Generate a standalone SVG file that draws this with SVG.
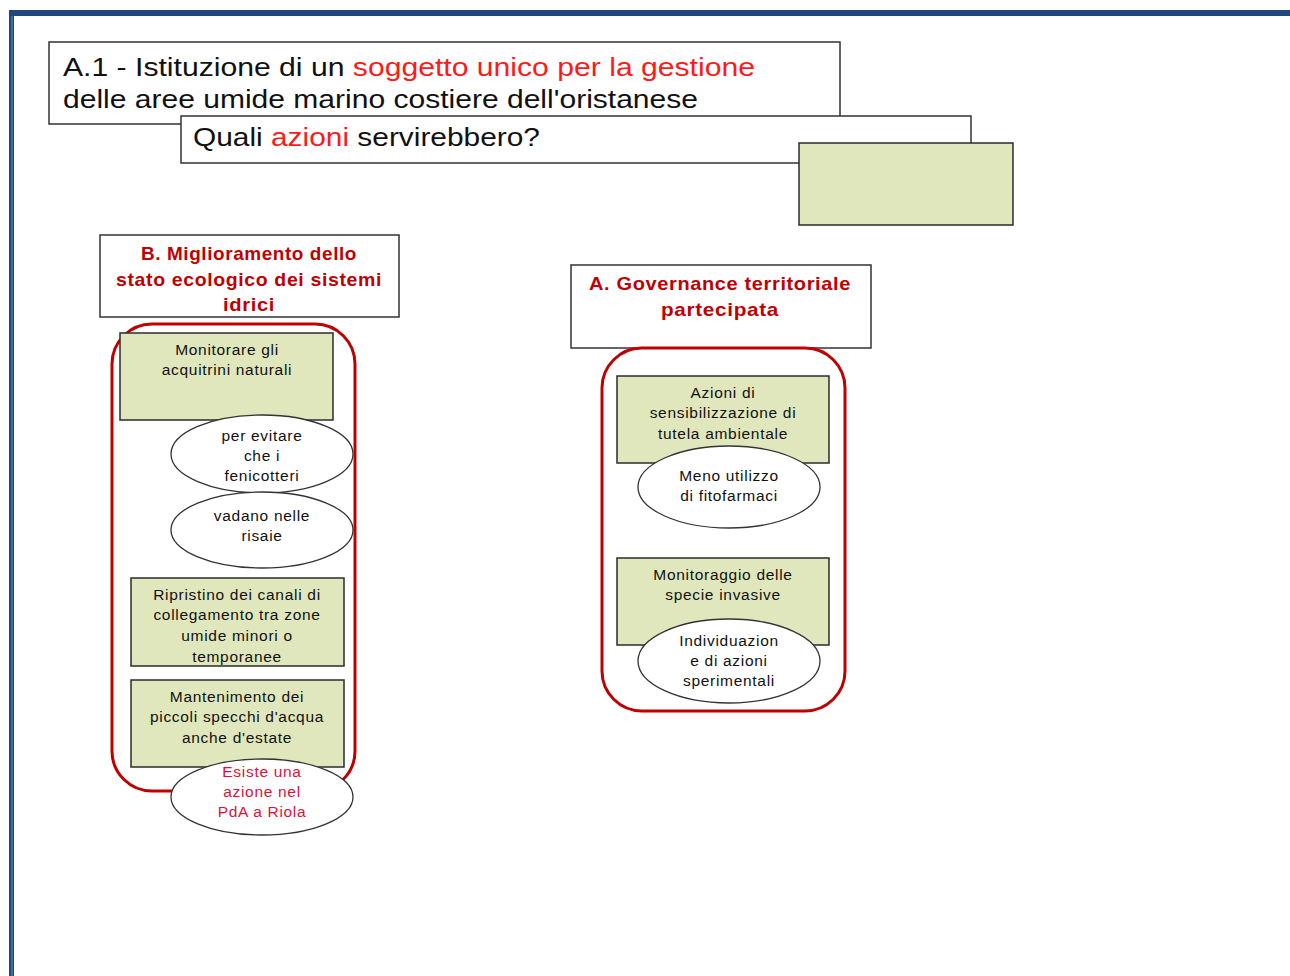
<svg xmlns="http://www.w3.org/2000/svg" width="1290" height="976" viewBox="0 0 1290 976">
<style>
.frame{fill:#1f497d}
.box{fill:#ffffff;stroke:#333333;stroke-width:1.5}
.green{fill:#e1e7bc;stroke:#2b2b2b;stroke-width:1.5}
.oval{fill:#ffffff;stroke:#333333;stroke-width:1.3}
.group{fill:none;stroke:#c00000;stroke-width:3}
.t{font-family:"Liberation Sans","DejaVu Sans",sans-serif;fill:#111111}
.title{font-size:25px}
.head{font-size:19px;font-weight:bold;fill:#c00000;letter-spacing:0.6px}
.small{font-size:15.5px;letter-spacing:0.7px;text-anchor:middle}
.red{fill:#ff1a1a}
.redsmall{fill:#e0103a}
</style>
<rect width="1290" height="976" fill="#ffffff"/>
<g id="frame">
<rect class="frame" x="9" y="10" width="1281" height="6"/>
<rect class="frame" x="9" y="10" width="5" height="966"/>
<rect x="11.5" y="16" width="1" height="960" fill="#6f8fb8"/>
</g>
<g id="title">
<rect class="box" x="49" y="42" width="791" height="82"/>
<text class="t title" x="63" y="76" textLength="692" lengthAdjust="spacingAndGlyphs">A.1 - Istituzione di un <tspan class="red">soggetto unico per la gestione</tspan></text>
<text class="t title" x="63" y="108" textLength="635" lengthAdjust="spacingAndGlyphs">delle aree umide marino costiere dell'oristanese</text>
</g>
<g id="question">
<rect class="box" x="181" y="116" width="790" height="47"/>
<text class="t title" x="193" y="146" textLength="347" lengthAdjust="spacingAndGlyphs">Quali <tspan class="red">azioni</tspan> servirebbero?</text>
</g>
<g id="empty-box">
<rect class="green" x="799" y="143" width="214" height="82"/>
</g>
<g id="connectors"></g>
<g id="header-B">
<rect class="box" x="100" y="235" width="299" height="82"/>
<text class="t head" x="249" y="260" text-anchor="middle" textLength="216" lengthAdjust="spacingAndGlyphs">B. Miglioramento dello</text>
<text class="t head" x="249" y="286" text-anchor="middle" textLength="266" lengthAdjust="spacingAndGlyphs">stato ecologico dei sistemi</text>
<text class="t head" x="249" y="311" text-anchor="middle" textLength="52" lengthAdjust="spacingAndGlyphs">idrici</text>
</g>
<g id="group-B">
<rect class="group" x="112" y="324" width="243" height="467" rx="40" ry="40"/>
</g>
<g id="node-monitorare">
<rect class="green" x="120" y="333" width="213" height="87"/>
<text class="t small" x="227" y="355">Monitorare gli</text>
<text class="t small" x="227" y="375">acquitrini naturali</text>
</g>
<g id="node-fenicotteri">
<ellipse class="oval" cx="262" cy="454" rx="91" ry="39"/>
<text class="t small" x="262" y="441">per evitare</text>
<text class="t small" x="262" y="461">che i</text>
<text class="t small" x="262" y="481">fenicotteri</text>
</g>
<g id="node-risaie">
<ellipse class="oval" cx="262" cy="530" rx="91" ry="38"/>
<text class="t small" x="262" y="521">vadano nelle</text>
<text class="t small" x="262" y="541">risaie</text>
</g>
<g id="node-ripristino">
<rect class="green" x="131" y="578" width="213" height="88"/>
<text class="t small" x="237" y="600">Ripristino dei canali di</text>
<text class="t small" x="237" y="620">collegamento tra zone</text>
<text class="t small" x="237" y="641">umide minori o</text>
<text class="t small" x="237" y="662">temporanee</text>
</g>
<g id="node-mantenimento">
<rect class="green" x="131" y="680" width="213" height="87"/>
<text class="t small" x="237" y="702">Mantenimento dei</text>
<text class="t small" x="237" y="722">piccoli specchi d'acqua</text>
<text class="t small" x="237" y="743">anche d'estate</text>
</g>
<g id="node-riola">
<ellipse class="oval" cx="262" cy="797" rx="91" ry="38"/>
<text class="t small redsmall" x="262" y="777">Esiste una</text>
<text class="t small redsmall" x="262" y="797">azione nel</text>
<text class="t small redsmall" x="262" y="817">PdA a Riola</text>
</g>
<g id="header-A">
<rect class="box" x="571" y="265" width="300" height="83"/>
<text class="t head" x="720" y="290" text-anchor="middle" textLength="262" lengthAdjust="spacingAndGlyphs">A. Governance territoriale</text>
<text class="t head" x="720" y="316" text-anchor="middle" textLength="118" lengthAdjust="spacingAndGlyphs">partecipata</text>
</g>
<g id="group-A">
<rect class="group" x="602" y="348" width="243" height="363" rx="40" ry="40"/>
</g>
<g id="node-sensibilizzazione">
<rect class="green" x="617" y="376" width="212" height="87"/>
<text class="t small" x="723" y="398">Azioni di</text>
<text class="t small" x="723" y="418">sensibilizzazione di</text>
<text class="t small" x="723" y="439">tutela ambientale</text>
</g>
<g id="node-fitofarmaci">
<ellipse class="oval" cx="729" cy="487" rx="91" ry="41"/>
<text class="t small" x="729" y="481">Meno utilizzo</text>
<text class="t small" x="729" y="501">di fitofarmaci</text>
</g>
<g id="node-invasive">
<rect class="green" x="617" y="558" width="212" height="87"/>
<text class="t small" x="723" y="580">Monitoraggio delle</text>
<text class="t small" x="723" y="600">specie invasive</text>
</g>
<g id="node-sperimentali">
<ellipse class="oval" cx="729" cy="661" rx="91" ry="42"/>
<text class="t small" x="729" y="646">Individuazion</text>
<text class="t small" x="729" y="666">e di azioni</text>
<text class="t small" x="729" y="686">sperimentali</text>
</g>
</svg>
